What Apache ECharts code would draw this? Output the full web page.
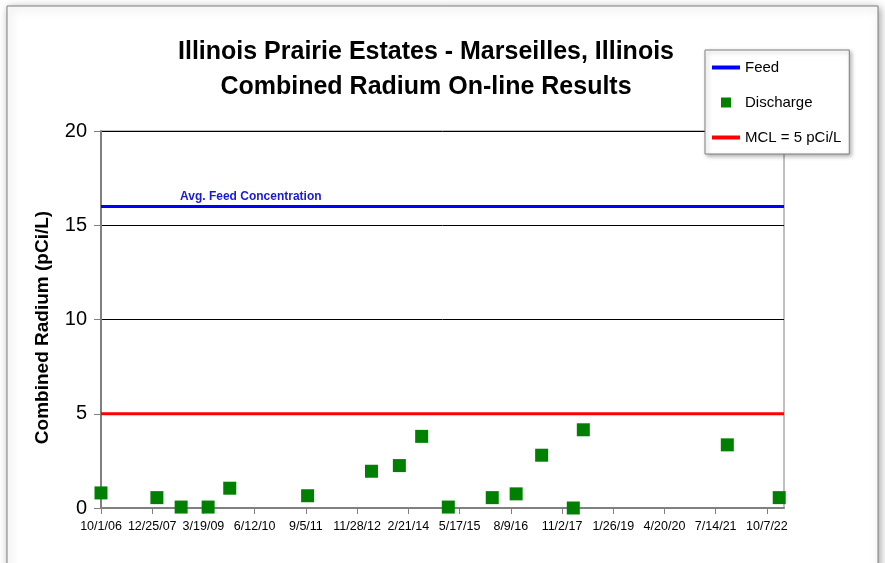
<!DOCTYPE html>
<html>
<head>
<meta charset="utf-8">
<script src="https://cdn.jsdelivr.net/npm/echarts@6/dist/echarts.min.js"></script>
<style>
html,body{margin:0;padding:0;background:#fff;}
#c{width:885px;height:563px;}
</style>
</head>
<body>
<div id="c"></div>
<script>
// ---- data ----
const titleLines = ['Illinois Prairie Estates - Marseilles, Illinois', 'Combined Radium On-line Results'];
const yAxisName = 'Combined Radium (pCi/L)';
const axisStartDate = '2006-10-01';
const xMinDays = 0;
const xMaxDays = 6000;
const xIntervalDays = 450;
const yMin = 0, yMax = 20, yInterval = 5;
const dischargeDates = ['2006-10-01','2008-02-04','2008-09-04','2009-04-29','2009-11-05','2011-09-20','2013-04-03','2013-12-04','2014-06-18','2015-02-07','2016-02-28','2016-09-25','2017-05-07','2018-02-09','2018-05-08','2021-10-24','2023-01-23'];
const dischargeValues = [0.8,0.55,0.05,0.05,1.05,0.65,1.95,2.25,3.8,0.05,0.55,0.75,2.8,0,4.15,3.35,0.55];
const feedValue = 16;
const mclValue = 5;
const feedLabel = 'Avg. Feed Concentration';

// ---- helpers ----
const DAY = 86400000;
function toUTC(s){const p=s.split('-').map(Number);return Date.UTC(p[0],p[1]-1,p[2]);}
const START = toUTC(axisStartDate);
function dayOffset(s){return Math.round((toUTC(s)-START)/DAY);}
function fmt(v){const d=new Date(START+v*DAY);return (d.getUTCMonth()+1)+'/'+d.getUTCDate()+'/'+String(d.getUTCFullYear()%100).padStart(2,'0');}

const ARIAL = "'Liberation Sans',Arial,sans-serif";
const LINE_ICON = 'path://M0,0H28V4H0Z';

const chart = echarts.init(document.getElementById('c'), null, {renderer:'canvas'});
chart.setOption({
  animation:false,
  backgroundColor:'#fff',
  graphic:[{
    type:'rect', z:-10, silent:true,
    shape:{x:7,y:6,width:871,height:570},
    style:{fill:'#fff',stroke:'#7f7f7f',lineWidth:1,shadowBlur:8,shadowColor:'rgba(0,0,0,0.35)',shadowOffsetX:2,shadowOffsetY:2}
  },{
    type:'text', z:20, left:180, top:191,
    style:{text:feedLabel, fill:'#1a1ad0', font:"bold 12px "+ARIAL}
  }],
  title:{
    text:titleLines.join('\n'),
    left:421, top:30, textAlign:'center',
    textStyle:{fontFamily:ARIAL,fontWeight:'bold',fontSize:25,lineHeight:35,color:'#000'}
  },
  legend:{
    orient:'vertical', left:705, top:50,
    padding:[10,8,9,7],
    itemGap:20, itemWidth:28, itemHeight:10,
    backgroundColor:'#fff', borderColor:'#7f7f7f', borderWidth:1,
    shadowBlur:4, shadowColor:'rgba(0,0,0,0.3)', shadowOffsetX:2, shadowOffsetY:2,
    textStyle:{fontFamily:ARIAL,fontSize:15,color:'#000'},
    data:[{name:'Feed',icon:LINE_ICON},{name:'Discharge',icon:'path://M0,0H1V1H0Z'},{name:'MCL = 5 pCi/L',icon:LINE_ICON}]
  },
  grid:{left:101,right:101,top:131,bottom:55,show:true,borderColor:'#808080',borderWidth:1,backgroundColor:'transparent'},
  xAxis:{
    type:'value', min:xMinDays, max:xMaxDays, interval:xIntervalDays,
    axisLine:{show:true,onZero:false,lineStyle:{color:'#808080',width:2}},
    axisTick:{show:true,length:6,lineStyle:{color:'#808080',width:1}},
    axisLabel:{formatter:fmt,fontFamily:ARIAL,fontSize:12.5,color:'#000',margin:12,showMinLabel:true,showMaxLabel:false,hideOverlap:false},
    splitLine:{show:false}
  },
  yAxis:{
    type:'value', min:yMin, max:yMax, interval:yInterval,
    name:yAxisName, nameLocation:'middle', nameGap:49, nameRotate:90,
    nameTextStyle:{fontFamily:ARIAL,fontWeight:'bold',fontSize:19,color:'#000',padding:[0,16,0,0]},
    axisLine:{show:true,lineStyle:{color:'#808080',width:2}},
    axisTick:{show:true,length:7,lineStyle:{color:'#808080',width:1}},
    axisLabel:{fontFamily:ARIAL,fontSize:20,color:'#000',margin:14},
    splitLine:{show:true,lineStyle:{color:'#000',width:1}}
  },
  series:[{
    name:'Feed', type:'line', symbol:'none', silent:true, z:3,
    lineStyle:{color:'#0000ff',width:3}, itemStyle:{color:'#0000ff'},
    data:[[xMinDays,feedValue],[xMaxDays,feedValue]]
  },{
    name:'Discharge', type:'scatter', symbol:'rect', symbolSize:13, clip:false, z:5,
    itemStyle:{color:'#008000',opacity:1},
    data:dischargeDates.map((d,i)=>[dayOffset(d),dischargeValues[i]])
  },{
    name:'MCL = 5 pCi/L', type:'line', symbol:'none', silent:true, z:3,
    lineStyle:{color:'#ff0000',width:3}, itemStyle:{color:'#ff0000'},
    data:[[xMinDays,mclValue],[xMaxDays,mclValue]]
  }]
});
</script>
</body>
</html>
